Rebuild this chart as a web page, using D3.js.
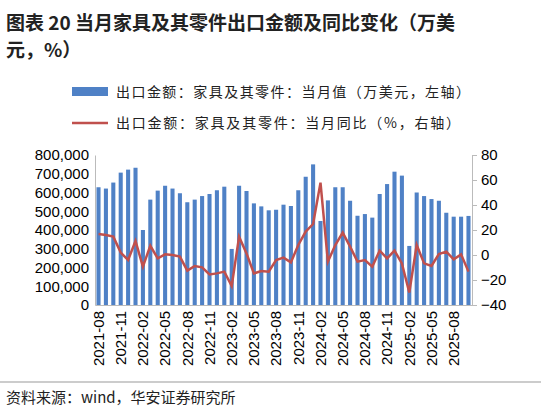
<!DOCTYPE html>
<html><head><meta charset="utf-8">
<script src="https://cdn.jsdelivr.net/npm/d3@7"></script>
<style>body{margin:0;background:#fff}svg{font-family:"Noto Sans CJK SC",Arial,sans-serif}</style>
</head><body><svg id="c" width="541" height="415"></svg>
<script>
// monthly export value (USD 10k) and yoy (%), 2021-08 .. 2025-10
const values = [628000,621000,653000,706000,722000,732000,400000,562000,610000,636000,621000,596000,548000,562000,581000,592000,612000,631000,299000,636000,608000,542000,526000,505000,508000,535000,528000,612000,684000,750000,448000,558000,628000,628000,556000,476000,485000,466000,592000,645000,711000,690000,315000,600000,581000,565000,556000,492000,471000,471000,475000];
const yoy = [16.8,16,14.7,1.9,-4,11.2,-9.3,7.4,-2.7,0.5,0,-1.3,-12.5,-8.8,-9.9,-15.5,-14.7,-13.3,-24.8,14.7,1.3,-14.7,-12.8,-13.3,-4,-2.1,-5.9,8,18.7,24.8,57.9,-5.3,8,17.9,6.7,-5.3,-4,-9.3,3.5,-2.7,3.5,-6.7,-30,8,-6.7,-8.8,0.8,2.7,-3.5,0.5,-13.3];
const months = d3.range(values.length).map(i => {
  const d = new Date(2021, 7 + i, 1);
  return d.getFullYear() + '-' + String(d.getMonth() + 1).padStart(2, '0');
});
const leftTicks = d3.range(0, 800001, 100000);
const rightTicks = [-40, -20, 0, 20, 40, 60, 80];

const svg = d3.select('#c');
const m = {l: 95, r: 472, t: 155, b: 305};

svg.append('text').attr('x', 6).attr('y', 30).attr('font-size', 19).attr('font-weight', 'bold').attr('fill', '#222')
  .text('图表 20 当月家具及其零件出口金额及同比变化（万美');
svg.append('text').attr('x', 6).attr('y', 57).attr('font-size', 19).attr('font-weight', 'bold').attr('fill', '#222')
  .text('元，%）');

const x = d3.scaleBand().domain(months).range([m.l, m.r]).paddingInner(0.45).paddingOuter(0.2);
const yL = d3.scaleLinear().domain([0, 800000]).range([m.b, m.t]);
const yR = d3.scaleLinear().domain([-40, 80]).range([m.b, m.t]);

svg.selectAll('.bar').data(values).enter().append('rect')
  .attr('x', (d, i) => x(months[i])).attr('width', x.bandwidth())
  .attr('y', d => yL(d)).attr('height', d => yL(0) - yL(d)).attr('fill', '#4f81c6');

svg.append('path').datum(yoy).attr('fill', 'none').attr('stroke', '#c0504d').attr('stroke-width', 2.5)
  .attr('d', d3.line().x((d, i) => x(months[i]) + x.bandwidth() / 2).y(d => yR(d)));

const fmt = d3.format(',');
const gl = svg.append('g').attr('transform', `translate(${m.l},0)`)
  .call(d3.axisLeft(yL).tickValues(leftTicks).tickFormat(fmt).tickSize(0).tickPadding(6));
const gr = svg.append('g').attr('transform', `translate(${m.r},0)`)
  .call(d3.axisRight(yR).tickValues(rightTicks).tickSize(5).tickPadding(4));
const gx = svg.append('g').attr('transform', `translate(0,${m.b})`)
  .call(d3.axisBottom(x).tickValues(months.filter((d, i) => i % 3 === 0)).tickSize(0));
gx.selectAll('text').attr('transform', 'rotate(-90)').attr('text-anchor', 'end').attr('dx', -6).attr('dy', '0.35em')
  .attr('x', 0).attr('y', 0);
[gl, gr, gx].forEach(g => {
  g.selectAll('text').attr('font-family', 'Arial, "Liberation Sans", sans-serif').attr('font-size', 15).attr('fill', '#000');
  g.select('.domain').attr('stroke', '#bbb');
  g.selectAll('line').attr('stroke', '#bbb');
});

// legend
const lg = svg.append('g').attr('font-size', 14).attr('fill', '#222');
lg.append('rect').attr('x', 72).attr('y', 87).attr('width', 36).attr('height', 9).attr('fill', '#4f81c6');
lg.append('text').attr('x', 116).attr('y', 97).attr('textLength', 354).text('出口金额：家具及其零件：当月值（万美元，左轴）');
lg.append('line').attr('x1', 72).attr('x2', 108).attr('y1', 123).attr('y2', 123).attr('stroke', '#c0504d').attr('stroke-width', 2.5);
lg.append('text').attr('x', 116).attr('y', 128).attr('textLength', 344).text('出口金额：家具及其零件：当月同比（%，右轴）');

svg.append('line').attr('x1', 0).attr('x2', 541).attr('y1', 382).attr('y2', 382).attr('stroke', '#999');
svg.append('text').attr('x', 6).attr('y', 403).attr('font-size', 15).attr('fill', '#222').text('资料来源：wind，华安证券研究所');
</script></body></html>
